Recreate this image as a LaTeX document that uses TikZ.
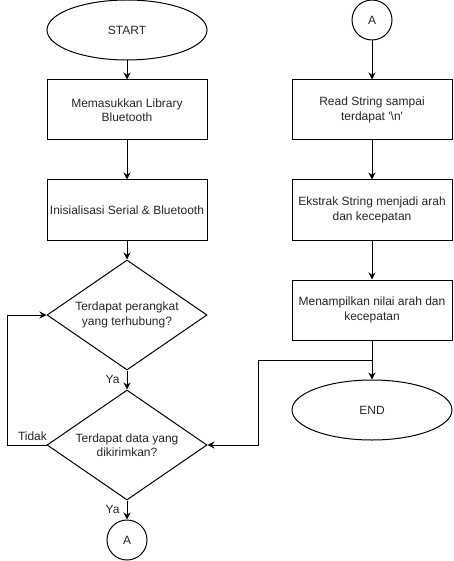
\documentclass[tikz,border=0pt]{standalone}
\usepackage{fontspec}
\setmainfont{Liberation Sans}
\usepackage{xcolor}
\usepackage{tikz}
\usetikzlibrary{arrows.meta,shapes.geometric,calc}

\tikzset{
  terminal/.style={ellipse,draw=black,minimum width=160pt,minimum height=60pt},
  process/.style={rectangle,draw=black,minimum width=160pt,minimum height=60pt,align=center},
  decision/.style={diamond,draw=black,aspect=1.45,minimum width=160pt,minimum height=110pt,align=center},
  connector/.style={circle,draw=black,minimum size=40pt},
}

\begin{document}
\begin{tikzpicture}[x=1pt,y=-1pt,node distance=100pt,auto,inner sep=0pt,line width=1pt,
  >={Stealth[length=7pt,width=7pt]},text=black!85,font=\fontsize{12}{14.4}\selectfont]
\useasboundingbox (0,0) rectangle (453,561);

% left column
\node[terminal] (start) at (127,30) {START};
\node[process] (lib) [below of = start, node distance=80pt] {Memasukkan Library\\Bluetooth};
\node[process] (init) [below of = lib] {Inisialisasi Serial \& Bluetooth};
\node[decision] (d1) [below of = init, node distance=105pt] {Terdapat perangkat\\yang terhubung?};
\node[decision] (d2) [below of = d1, node distance=130pt] {Terdapat data yang\\dikirimkan?};
\node[connector] (A1) [below of = d2, node distance=95pt] {A};

% right column
\node[connector] (A2) at (372,20) {A};
\node[process] (read) [below of = A2, node distance=90pt] {Read String sampai\\terdapat \textquotesingle\textbackslash n\textquotesingle};
\node[process] (extract) [below of = read] {Ekstrak String menjadi arah\\dan kecepatan};
\node[process] (show) [below of = extract] {Menampilkan nilai arah dan\\kecepatan};
\node[terminal] (end) [below of = show] {END};
\coordinate (J) at ($(show.south)!0.5!(end.north)$);

\path (start) edge [->] (lib);
\path (lib) edge [->] (init);
\path (init) edge [->] (d1);
\path (d1) edge [->] node[left=7pt,pos=0.45] {Ya} (d2);
\path (d2) edge [->] node[left=7pt,pos=0.45] {Ya} (A1);
\draw[->] (d2.west) -- node[above=4pt,pos=0.36] {Tidak} ++(-39,0) |- (d1.west);

\path (A2) edge [->] (read);
\path (read) edge [->] (extract);
\path (extract) edge [->] (show);
\path (show) edge [->] (end);
\draw[->] (J) -- ++(-114,0) |- (d2.east);

\end{tikzpicture}
\end{document}
